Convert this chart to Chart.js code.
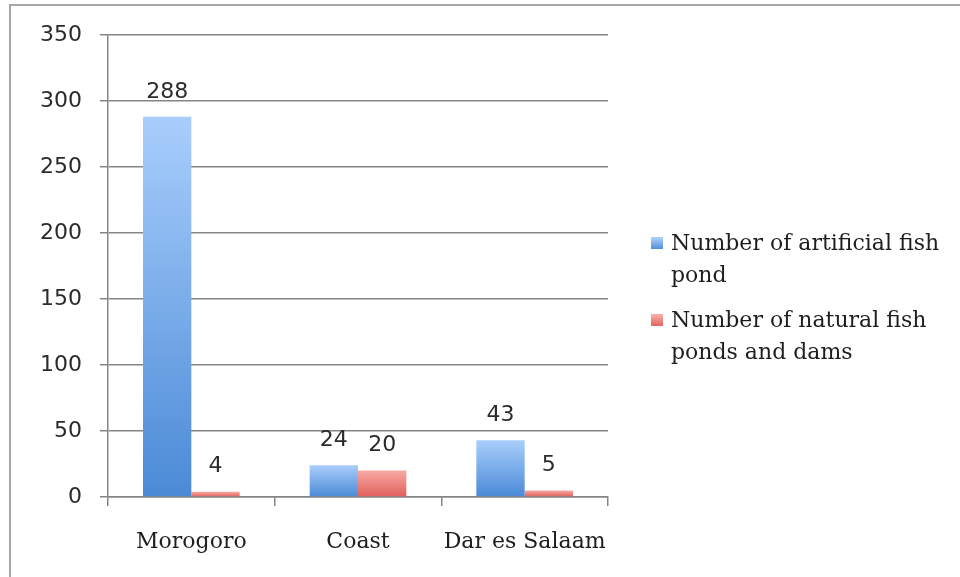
<!DOCTYPE html>
<html>
<head>
<meta charset="utf-8">
<script src="https://cdn.jsdelivr.net/npm/chart.js@4"></script>
<style>
  html, body { margin: 0; padding: 0; background: #fff; }
  #wrap { position: relative; width: 960px; height: 577px; }
  #frame { position: absolute; left: 9px; top: 4px; right: 0; bottom: 0;
           border-top: 2px solid #a6a6a6; border-left: 2px solid #a6a6a6; }
  canvas { position: absolute; left: 0; top: 0; }
</style>
</head>
<body>
<div id="wrap">
  <div id="frame"></div>
  <canvas id="chart" width="960" height="577"></canvas>
</div>
<script>
const regions = ['Morogoro', 'Coast', 'Dar es Salaam'];
const artificialPonds = [288, 24, 43];
const naturalPonds = [4, 20, 5];
const yTicks = [0, 50, 100, 150, 200, 250, 300, 350];
const seriesNames = [
    ['Number of artificial fish', 'pond'],
    ['Number of natural fish', 'ponds and dams']
];

const serif = '"DejaVu Serif", serif';
const sans = '"DejaVu Sans", sans-serif';

// vertical gradient for each bar, light at the top, darker at the base
function barGradient(top, bottom) {
    return function(context) {
        const chart = context.chart;
        if (!chart.chartArea || context.raw === undefined) return bottom;
        const y = chart.scales.y;
        const y0 = y.getPixelForValue(context.raw);
        const y1 = y.getPixelForValue(0);
        const g = chart.ctx.createLinearGradient(0, y0, 0, y1 === y0 ? y0 + 1 : y1);
        g.addColorStop(0, top);
        g.addColorStop(1, bottom);
        return g;
    };
}

const blueTop = '#a9cefc', blueBottom = '#4a8ad6';
const redTop = '#f8aaa5', redBottom = '#df5f59';

// value labels above the bars
const valueLabels = {
    id: 'valueLabels',
    afterDatasetsDraw(chart) {
        const ctx = chart.ctx;
        ctx.save();
        ctx.font = '22px ' + sans;
        ctx.fillStyle = '#2b2b2b';
        ctx.textAlign = 'center';
        ctx.textBaseline = 'middle';
        chart.data.datasets.forEach((ds, i) => {
            chart.getDatasetMeta(i).data.forEach((bar, j) => {
                ctx.fillText(String(ds.data[j]), bar.x, bar.y - 25);
            });
        });
        ctx.restore();
    }
};

// legend on the right, with wrapped series names
const sideLegend = {
    id: 'sideLegend',
    afterDraw(chart) {
        const ctx = chart.ctx;
        const swatches = [[blueTop, blueBottom], [redTop, redBottom]];
        const rows = [244, 321];
        ctx.save();
        ctx.font = '22px ' + serif;
        ctx.textBaseline = 'middle';
        rows.forEach((y, i) => {
            const g = ctx.createLinearGradient(0, y - 6, 0, y + 6);
            g.addColorStop(0, swatches[i][0]);
            g.addColorStop(1, swatches[i][1]);
            ctx.fillStyle = g;
            ctx.fillRect(651, y - 7, 12, 12);
            ctx.fillStyle = '#1e1e1e';
            seriesNames[i].forEach((line, k) => {
                ctx.fillText(line, 671, y + k * 32);
            });
        });
        ctx.restore();
    }
};

new Chart(document.getElementById('chart'), {
    type: 'bar',
    data: {
        labels: regions,
        datasets: [
            {
                label: seriesNames[0].join(' '),
                data: artificialPonds,
                backgroundColor: barGradient(blueTop, blueBottom),
                categoryPercentage: 0.58,
                barPercentage: 1.0
            },
            {
                label: seriesNames[1].join(' '),
                data: naturalPonds,
                backgroundColor: barGradient(redTop, redBottom),
                categoryPercentage: 0.58,
                barPercentage: 1.0
            }
        ]
    },
    options: {
        responsive: false,
        animation: false,
        layout: { padding: { top: 35, right: 352, left: 0, bottom: 0 } },
        plugins: {
            legend: { display: false },
            tooltip: { enabled: false }
        },
        scales: {
            x: {
                grid: {
                    offset: true,
                    drawOnChartArea: false,
                    drawTicks: true,
                    tickLength: 9,
                    color: '#858585',
                    lineWidth: 1.5
                },
                border: { color: '#858585', width: 1.5 },
                ticks: {
                    font: { family: serif, size: 22 },
                    color: '#1e1e1e',
                    padding: 23,
                    autoSkip: false,
                    maxRotation: 0,
                    minRotation: 0
                },
                afterFit(scale) { scale.height = 80; }
            },
            y: {
                min: 0,
                max: 350,
                afterBuildTicks(scale) {
                    scale.ticks = yTicks.map(v => ({ value: v }));
                },
                grid: {
                    color: '#858585',
                    lineWidth: 1.5,
                    tickLength: 8
                },
                border: { color: '#858585', width: 1.5 },
                ticks: {
                    font: { family: sans, size: 22 },
                    color: '#2b2b2b',
                    padding: 18
                },
                afterFit(scale) { scale.width = 108; }
            }
        }
    },
    plugins: [valueLabels, sideLegend]
});
</script>
</body>
</html>
